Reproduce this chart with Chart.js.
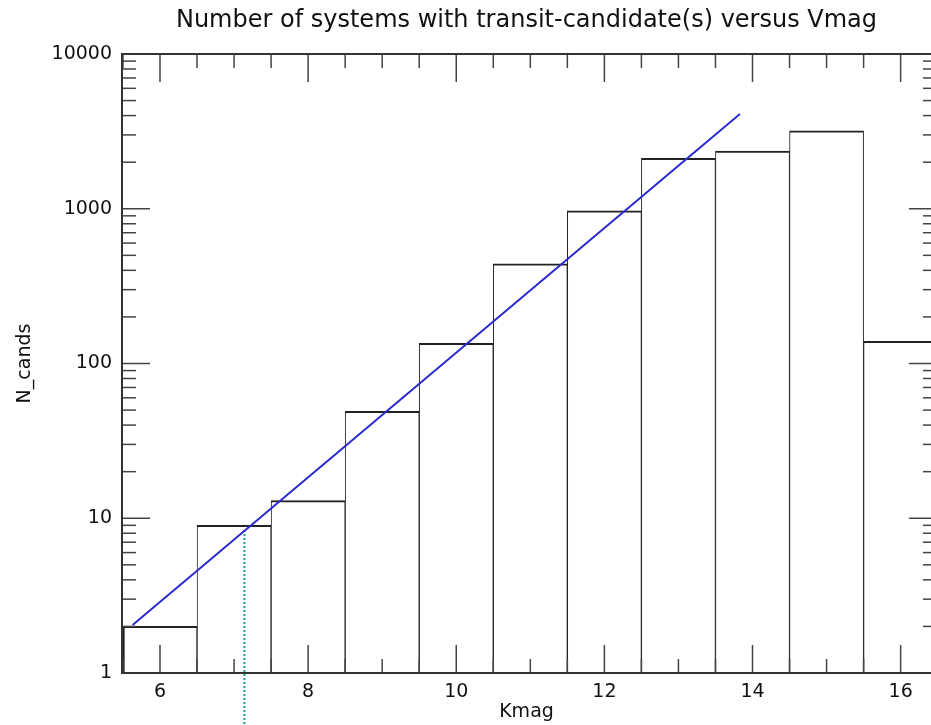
<!DOCTYPE html>
<html>
<head>
<meta charset="utf-8">
<script src="https://cdn.jsdelivr.net/npm/chart.js@4.4.1/dist/chart.umd.min.js"></script>
<style>
  html, body { margin: 0; padding: 0; background: #fff; overflow: hidden; }
  #wrap { width: 931px; height: 725px; }
</style>
</head>
<body>
<div id="wrap"><canvas id="my-chart" width="931" height="725"></canvas></div>
<script>
// histogram: Kmag bin centres and counts per bin
const binCentres = [6, 7, 8, 9, 10, 11, 12, 13, 14, 15, 16];
const binCounts = [2, 9, 13, 49, 135, 440, 970, 2120, 2360, 3190, 139];

// straight fit line, two end points
const fitK = [5.63, 13.83];
const fitN = [2.04, 4100];

// dotted marker line (runs below the axis)
const markK = [7.14, 7.14];
const markN = [8.4, 0.46];

const xTickLabels = [6, 8, 10, 12, 14, 16];
const yTickLabels = [1, 10, 100, 1000, 10000];

// right edge of the plot box sits just past the window
const xFrameEdge = 16.49;

const FONT = "'DejaVu Sans', sans-serif";

// inward tick marks on all four sides + the box
const frameTicks = {
  id: 'frameTicks',
  afterDatasetsDraw(chart) {
    const {ctx, chartArea: a, scales: {x, y}} = chart;
    const right = x.getPixelForValue(xFrameEdge);
    const tick = (x1, y1, x2, y2) => {
      ctx.beginPath();
      ctx.moveTo(x1, y1);
      ctx.lineTo(x2, y2);
      ctx.stroke();
    };
    ctx.save();
    ctx.strokeStyle = '#444';
    ctx.lineWidth = 1.5;
    for (let v = 5.5; v <= xFrameEdge; v += 0.5) {
      const px = x.getPixelForValue(v);
      if (px < a.left) continue;
      const len = xTickLabels.includes(v) ? 28 : 14;
      tick(px, a.bottom, px, a.bottom - len);
      tick(px, a.top, px, a.top + len);
    }
    for (let d = 1; d <= 10000; d *= 10) {
      for (let m = 1; m <= 9; m++) {
        const v = d * m;
        if (v > 10000) break;
        const py = y.getPixelForValue(v);
        const len = m === 1 ? 28 : 14;
        tick(a.left, py, a.left + len, py);
        tick(right, py, right - len, py);
      }
    }
    ctx.lineWidth = 2;
    ctx.strokeStyle = '#333';
    ctx.strokeRect(a.left, a.top, right - a.left, a.bottom - a.top);
    ctx.restore();
  }
};

const ctx = document.getElementById('my-chart').getContext('2d');

new Chart(ctx, {
  type: 'bar',
  data: {
    datasets: [
      {
        type: 'line',
        data: fitK.map((k, i) => ({x: k, y: fitN[i]})),
        borderColor: '#2a2ad0',
        borderWidth: 2,
        pointRadius: 0,
        fill: false,
        order: 0
      },
      {
        type: 'line',
        data: markK.map((k, i) => ({x: k, y: markN[i]})),
        borderColor: '#1a9aa4',
        borderWidth: 2,
        borderDash: [2, 2],
        pointRadius: 0,
        fill: false,
        clip: false,
        order: 1
      },
      {
        type: 'bar',
        data: binCentres.map((k, i) => ({x: k, y: binCounts[i]})),
        backgroundColor: '#fff',
        borderColor: '#222',
        borderWidth: c => ({top: 2, right: 1, bottom: 0, left: c.dataIndex === 0 ? 2 : 1}),
        borderSkipped: false,
        barPercentage: 1,
        categoryPercentage: 1,
        order: 2
      }
    ]
  },
  options: {
    responsive: false,
    animation: false,
    devicePixelRatio: 1,
    layout: { padding: 0 },
    plugins: {
      legend: { display: false },
      tooltip: { enabled: false },
      title: {
        display: true,
        text: 'Number of systems with transit-candidate(s) versus Vmag',
        fullSize: false,
        color: '#111',
        font: { family: FONT, size: 24, weight: 'normal' },
        padding: { top: 6, bottom: 19.2 }
      }
    },
    scales: {
      x: {
        type: 'linear',
        min: 5.487,
        max: 16.41,
        offset: false,
        grid: { display: false, offset: false, drawTicks: false },
        border: { display: false },
        afterFit: s => { s.height = 52; },
        afterBuildTicks: s => { s.ticks = xTickLabels.map(v => ({value: v})); },
        ticks: {
          padding: 8,
          color: '#111',
          font: { family: FONT, size: 19 },
          callback: v => String(v)
        },
        title: {
          display: true,
          text: 'Kmag',
          color: '#111',
          font: { family: FONT, size: 19 },
          padding: { top: 0, bottom: 2 }
        }
      },
      y: {
        type: 'logarithmic',
        min: 1,
        max: 10000,
        grid: { display: false, drawTicks: false },
        border: { display: false },
        afterFit: s => { s.width = 122; },
        afterBuildTicks: s => { s.ticks = yTickLabels.map(v => ({value: v})); },
        ticks: {
          padding: 10,
          color: '#111',
          font: { family: FONT, size: 19 },
          callback: v => String(v)
        },
        title: {
          display: true,
          text: 'N_cands',
          color: '#111',
          font: { family: FONT, size: 19 },
          padding: { top: 14, bottom: 0 }
        }
      }
    }
  },
  plugins: [frameTicks]
});
</script>
</body>
</html>
